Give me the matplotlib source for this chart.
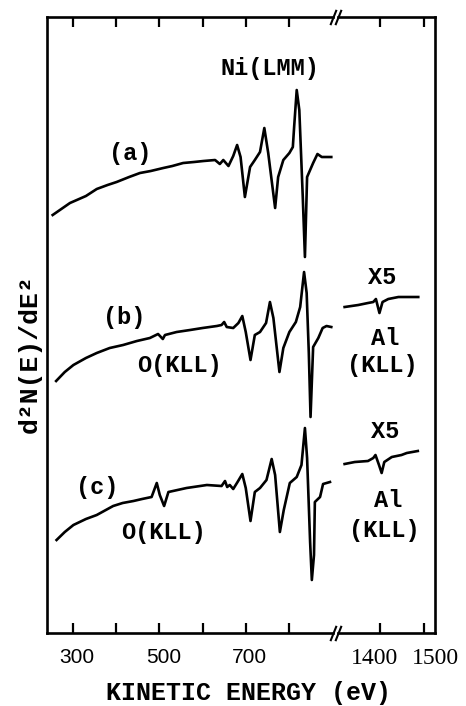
import matplotlib
matplotlib.use('Agg')
from matplotlib import pyplot as plt
from matplotlib.transforms import ScaledTranslation

# Ni LMM region, three spectra (arbitrary units, stacked)
energy_a = [253, 293, 330, 355, 380, 401, 430, 455, 480, 509, 530, 555, 580, 602, 629, 640,
            648, 660, 671, 680, 688, 698, 710, 721, 733, 743, 752, 768, 775, 787, 801, 809,
            812, 818, 824, 832, 837, 842, 856, 866, 876, 898]
signal_a = [418, 430, 437, 444, 448, 451, 456, 460, 462, 465, 467, 470, 471, 472, 473, 469,
            473, 467, 477, 488, 476, 436, 466, 473, 481, 505, 480, 425, 456, 473, 480, 486,
            506, 543, 523, 436, 376, 456, 470, 479, 476, 476]

energy_b = [261, 281, 301, 330, 355, 385, 416, 448, 478, 497, 508, 513, 540, 571, 600, 633,
            644, 650, 656, 671, 683, 692, 700, 711, 721, 733, 747, 756, 764, 778, 787, 801,
            816, 826, 835, 841, 846, 850, 856, 868, 878, 887, 898]
signal_b = [252, 261, 268, 275, 280, 285, 288, 292, 295, 299, 294, 298, 301, 303, 305, 307,
            308, 311, 306, 305, 310, 317, 301, 273, 298, 301, 310, 331, 315, 261, 285, 301,
            311, 326, 361, 340, 280, 216, 286, 295, 305, 307, 306]

energy_c = [262, 281, 301, 330, 355, 393, 415, 440, 460, 482, 494, 501, 511, 521, 563, 610,
            644, 652, 657, 663, 671, 681, 692, 700, 711, 721, 733, 748, 760, 768, 779, 788,
            802, 818, 829, 837, 842, 849, 853, 858, 860, 872, 879, 895]
signal_c = [93, 101, 108, 114, 118, 127, 130, 132, 134, 136, 150, 138, 127, 141, 145, 148,
            147, 152, 146, 148, 144, 151, 159, 145, 112, 141, 145, 153, 174, 158, 101, 123,
            150, 156, 168, 205, 175, 91, 53, 78, 131, 136, 149, 151]

# Al KLL region (x5)
energy_b_hi = [1320, 1351, 1373, 1385, 1391, 1399, 1406, 1419, 1442, 1457, 1487]
signal_b_hi = [326, 328, 330, 331, 334, 320, 331, 334, 336, 336, 336]

energy_c_hi = [1320, 1343, 1373, 1385, 1390, 1398, 1404, 1410, 1427, 1449, 1461, 1486]
signal_c_hi = [169, 171, 172, 175, 178, 168, 160, 171, 176, 178, 180, 182]

ticks_lo = [300, 400, 500, 600, 700, 800]
labels_lo = ['300', '', '500', '', '700', '']
ticks_hi = [1400, 1500]
labels_hi = ['1400', '1500']

FONT = 'Liberation Mono'
LW = 1.9

fig = plt.figure(figsize=(4.66, 7.06), dpi=100)
ax1 = fig.add_axes([0.1019, 0.1034, 0.6127, 0.8725])
ax2 = fig.add_axes([0.7253, 0.1034, 0.2082, 0.8725])

ax1.plot(energy_a, signal_a, color='k', lw=LW)
ax1.plot(energy_b, signal_b, color='k', lw=LW)
ax1.plot(energy_c, signal_c, color='k', lw=LW)
ax2.plot(energy_b_hi, signal_b_hi, color='k', lw=LW)
ax2.plot(energy_c_hi, signal_c_hi, color='k', lw=LW)

ax1.set_xlim(241, 902)
ax2.set_xlim(1305, 1525)
for ax in (ax1, ax2):
    ax.set_ylim(0, 616)
    ax.set_yticks([])
    for s in ax.spines.values():
        s.set_linewidth(LW)
    ax.tick_params(axis='x', direction='in', top=True, length=7, width=1.6, pad=11)
ax1.spines['right'].set_visible(False)
ax2.spines['left'].set_visible(False)

ax1.set_xticks(ticks_lo)
ax1.set_xticklabels(labels_lo, family='Liberation Sans', fontsize=15)
ax2.set_xticks(ticks_hi)
ax2.set_xticklabels(labels_hi, family='Liberation Serif', fontsize=17)
# nudge the tick labels a little off their ticks
for lab in ax1.get_xticklabels():
    lab.set_transform(lab.get_transform() + ScaledTranslation(4 / 100, 0, fig.dpi_scale_trans))
shifts = [-5, 11]
for lab, dx in zip(ax2.get_xticklabels(), shifts):
    lab.set_transform(lab.get_transform() + ScaledTranslation(dx / 100, 0, fig.dpi_scale_trans))

# axis break marks
brk = dict(marker=[(-0.4, -1), (0.4, 1)], markersize=11, linestyle='none',
           color='k', mec='k', mew=1.5, clip_on=False)
ax1.plot([1, 1], [0, 1], transform=ax1.transAxes, **brk)
ax2.plot([0, 0], [0, 1], transform=ax2.transAxes, **brk)

txt = dict(family=FONT, fontsize=17, fontweight='bold', ha='center', va='center')
ax1.text(756, 565, 'Ni(LMM)', **txt)
ax1.text(432, 480, '(a)', **txt)
ax1.text(418, 316, '(b)', **txt)
ax1.text(546, 268, 'O(KLL)', **txt)
ax1.text(355, 146, '(c)', **txt)
ax1.text(509, 101, 'O(KLL)', **txt)
ax2.text(1405, 356, 'X5', **txt)
ax2.text(1411, 295, 'Al', **txt)
ax2.text(1406, 268, '(KLL)', **txt)
ax2.text(1411, 202, 'X5', **txt)
ax2.text(1419, 133, 'Al', **txt)
ax2.text(1409, 103, '(KLL)', **txt)

fig.text(248 / 466, 1 - 693 / 706, 'KINETIC ENERGY (eV)', family=FONT,
         fontsize=18, fontweight='bold', ha='center', va='center')
fig.text(30 / 466, 1 - 354 / 706, 'd²N(E)/dE²', family=FONT, fontsize=19,
         fontweight='bold', rotation=90, ha='center', va='center')

fig.savefig('out.png', dpi=100, facecolor='white')
